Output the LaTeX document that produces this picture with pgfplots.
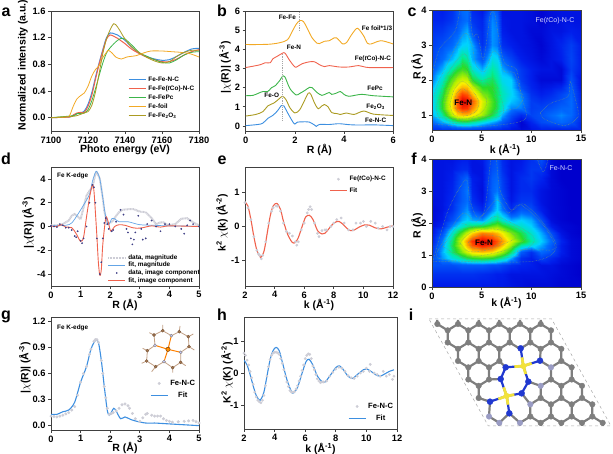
\documentclass[border=0pt]{standalone}
\usepackage{fontspec}
\setmainfont{Liberation Sans}
\usepackage{pgfplots}
\pgfplotsset{compat=1.18}

\definecolor{cblue}{HTML}{3D8FE0}
\definecolor{cred}{HTML}{F0624D}
\definecolor{cgreen}{HTML}{3CB54A}
\definecolor{corange}{HTML}{F2A925}
\definecolor{colive}{HTML}{AB9B22}
\definecolor{cspine}{HTML}{404040}
\definecolor{cdots}{HTML}{CDCDD6}
\definecolor{catom}{HTML}{7E7E7E}
\definecolor{cn}{HTML}{2038D0}
\definecolor{clav}{HTML}{9A9CC4}
\definecolor{cfe}{HTML}{F2E23C}
\definecolor{cbrown}{HTML}{A87850}
\definecolor{cctr}{HTML}{6F9A78}

\newcommand\tickf{\fontsize{9.3}{10}\selectfont\bfseries}
\newcommand\labf{\fontsize{10.5}{11}\selectfont\bfseries}
\newcommand\legf{\fontsize{6.4}{7}\selectfont\bfseries}
\newcommand\letf{\fontsize{16}{16}\selectfont\bfseries}

\pgfplotsset{
  colormap={exafs}{rgb255(0cm)=(0,0,150); rgb255(6cm)=(0,0,205); rgb255(12cm)=(0,30,235); rgb255(25cm)=(0,110,255);
    rgb255(33cm)=(0,210,255); rgb255(42cm)=(0,235,160); rgb255(50cm)=(40,220,40);
    rgb255(62cm)=(180,240,0); rgb255(70cm)=(250,240,0); rgb255(80cm)=(255,150,0);
    rgb255(92cm)=(255,50,0); rgb255(100cm)=(220,0,0)},
  panel/.style={
    scale only axis, anchor=south west,
    axis line style={cspine,line width=.9pt},
    tick style={cspine,line width=.7pt},
    tick align=outside, major tick length=3pt,
    xtick pos=bottom, ytick pos=left,
    /pgf/number format/assume math mode=true,
    tick label style={font=\tickf},
    label style={font=\labf},
    xticklabel style={yshift=1pt}, yticklabel style={xshift=1pt},
    legend cell align=left,
    legend style={draw=none,fill=none,font=\legf,inner sep=0pt,outer sep=0pt,row sep=-.6pt},
  },
  xlab/.style 2 args={xlabel style={at={(axis description cs:#1,#2)},anchor=center}},
  ylab/.style 2 args={ylabel style={at={(axis description cs:#1,#2)},anchor=center}},
  ctr/.style={densely dotted,color=cctr,line width=.45pt,smooth,forget plot},
  heat/.style={surf,shader=interp,point meta=explicit,point meta min=0,point meta max=1,colormap name=exafs},
}

\begin{document}
\begin{tikzpicture}[x=1pt,y=1pt]
\path[use as bounding box] (0,0) rectangle (613,454);

% a: XANES
\begin{axis}[panel, at={(51pt,323pt)}, width=148pt, height=120pt,
  xmin=7100, xmax=7180, ymin=-0.2, ymax=1.6,
  xtick={7100,7120,7140,7160,7180}, ytick={0,0.4,0.8,1.2,1.6},
  x tick label style={/pgf/number format/1000 sep={}},
  y tick label style={/pgf/number format/fixed,/pgf/number format/fixed zerofill,/pgf/number format/precision=1},
  xlabel={Photo energy (eV)}, ylabel={Normalized intensity (a.u.)},
  xlab={.5}{-.158}, ylab={-.19}{.55},
  legend style={at={(axis description cs:.52,.47)},anchor=north west,row sep=-1pt},
  legend image post style={line width=1.4pt},
]
\addplot[cblue,line width=1pt,smooth] coordinates {(7100,0)(7110,0.01)(7112,0.03)(7114,0.06)(7116,0.07)(7118,0.10)(7120,0.2)(7122,0.37)(7124,0.6)(7126,0.82)(7128,1.02)(7130,1.2)(7132,1.27)(7134,1.26)(7136,1.24)(7138,1.2)(7140,1.16)(7144,1.05)(7148,0.96)(7152,0.91)(7156,0.88)(7160,0.86)(7164,0.87)(7168,0.92)(7172,0.98)(7176,1.03)(7180,1.04)};
\addplot[cred,line width=1pt,smooth] coordinates {(7100,0)(7110,0.01)(7112,0.04)(7114,0.07)(7116,0.08)(7118,0.08)(7120,0.17)(7122,0.33)(7124,0.57)(7126,0.8)(7128,1.0)(7130,1.18)(7132,1.24)(7134,1.22)(7136,1.19)(7138,1.15)(7140,1.11)(7144,1.02)(7150,0.93)(7156,0.87)(7160,0.84)(7164,0.84)(7168,0.88)(7172,0.94)(7176,0.99)(7180,1.02)};
\addplot[cgreen,line width=.8pt,smooth] coordinates {(7100,0)(7112,0.03)(7114,0.06)(7118,0.07)(7120,0.12)(7122,0.25)(7124,0.43)(7126,0.63)(7128,0.82)(7130,0.97)(7132,1.05)(7134,1.11)(7136,1.16)(7138,1.19)(7140,1.18)(7144,1.08)(7148,0.97)(7152,0.92)(7156,0.87)(7160,0.83)(7164,0.82)(7168,0.87)(7172,0.94)(7176,0.98)(7180,0.99)};
\addplot[corange,line width=.8pt,smooth] coordinates {(7100,0)(7108,0.01)(7110,0.03)(7112,0.17)(7114,0.28)(7116,0.33)(7118,0.37)(7120,0.47)(7122,0.62)(7124,0.72)(7126,0.78)(7128,0.9)(7130,0.98)(7131,1.01)(7133,0.97)(7135,0.91)(7138,0.88)(7141,0.91)(7146,0.93)(7150,0.97)(7154,1.0)(7160,1.0)(7165,0.99)(7170,0.98)(7175,0.96)(7180,0.91)};
\addplot[colive,line width=.8pt,smooth] coordinates {(7100,0)(7112,0.02)(7116,0.05)(7118,0.07)(7120,0.09)(7122,0.18)(7124,0.38)(7126,0.66)(7128,0.96)(7130,1.18)(7132,1.32)(7134,1.41)(7136,1.36)(7138,1.27)(7140,1.18)(7144,1.05)(7148,0.97)(7152,0.9)(7156,0.85)(7160,0.82)(7164,0.84)(7168,0.92)(7172,0.98)(7176,1.01)(7180,1.01)};
\legend{Fe-Fe-N-C,Fe-Fe(\textit{t}Co)-N-C,Fe-FePc,Fe-foil,Fe-Fe\textsubscript{2}O\textsubscript{3}}
\end{axis}

% b: |chi(R)| stack
\begin{axis}[panel, at={(245.7pt,323pt)}, width=147.5pt, height=120pt,
  xmin=0, xmax=6, ymin=-0.26, ymax=6,
  xtick={0,2,4,6}, ytick={0,1,2,3,4,5,6},
  xlabel={R (Å)}, ylabel={|$\chi$(R)| (Å\textsuperscript{-3})},
  xlab={.5}{-.158}, ylab={-.14}{.53},
]
\addplot[corange,line width=.9pt,smooth] coordinates {(0,4.25)(0.5,4.25)(1,4.27)(1.4,4.35)(1.7,4.5)(1.9,4.95)(2.05,5.3)(2.2,5.5)(2.35,5.45)(2.5,5.1)(2.7,4.6)(2.9,4.32)(3.0,4.3)(3.2,4.42)(3.4,4.45)(3.6,4.6)(3.7,4.6)(3.85,4.4)(3.95,4.28)(4.1,4.35)(4.3,4.75)(4.5,5.08)(4.6,5.05)(4.8,4.7)(4.95,4.32)(5.1,4.28)(5.3,4.38)(5.5,4.45)(5.7,4.4)(6,4.28)};
\addplot[cred,line width=.9pt,smooth] coordinates {(0,3.05)(0.3,3.12)(0.6,3.2)(0.8,3.3)(1,3.3)(1.1,3.5)(1.3,3.65)(1.5,3.8)(1.6,3.8)(1.8,3.4)(2,3.08)(2.1,3.1)(2.3,3.25)(2.6,3.35)(2.8,3.35)(3,3.2)(3.2,3.1)(3.4,3.15)(3.8,3.08)(4.2,3.08)(4.6,3.15)(5,3.05)(6,3.05)};
\addplot[cgreen,line width=.9pt,smooth] coordinates {(0,1.58)(0.3,1.6)(0.5,1.7)(0.7,1.8)(0.9,1.8)(1.05,2.0)(1.2,2.1)(1.4,2.4)(1.5,2.6)(1.6,2.55)(1.8,1.95)(2.05,1.62)(2.2,1.7)(2.4,1.85)(2.6,2.02)(2.7,2.0)(2.9,1.75)(3.1,1.6)(3.3,1.7)(3.4,1.75)(3.5,1.65)(3.7,1.72)(3.85,1.8)(4,1.65)(4.2,1.55)(4.7,1.65)(5.2,1.58)(6,1.52)};
\addplot[colive,line width=.9pt,smooth] coordinates {(0,0.52)(0.4,0.6)(0.7,0.75)(0.9,1.05)(1.15,1.2)(1.3,1.35)(1.5,1.55)(1.65,1.35)(1.8,0.95)(2,0.68)(2.2,0.85)(2.4,1.35)(2.55,1.72)(2.65,1.65)(2.8,1.2)(2.95,0.9)(3.1,1.05)(3.2,1.12)(3.35,1.0)(3.5,0.7)(3.7,0.65)(3.85,0.6)(4.1,0.68)(4.4,0.6)(4.8,0.78)(5.2,0.62)(6,0.55)};
\addplot[cblue,line width=.9pt,smooth] coordinates {(0,0.02)(0.5,0.08)(0.7,0.15)(0.9,0.4)(1.1,0.55)(1.3,0.8)(1.45,1.07)(1.55,1.05)(1.7,0.7)(1.9,0.25)(2,0.1)(2.1,0.2)(2.4,0.22)(2.6,0.2)(2.8,0.05)(2.87,-0.02)(3,0.08)(3.4,0.08)(3.8,0.12)(4.2,0.07)(4.6,0.05)(5.2,0.06)(6,0.02)};
\addplot[gray!70,densely dotted,line width=1.2pt] coordinates {(2.2,5.95)(2.2,5.0)};
\addplot[gray!70,densely dotted,line width=1.2pt] coordinates {(1.5,3.75)(1.5,0.3)};
\end{axis}

% c: wavelet Fe(tCo)-N-C
\begin{axis}[panel, at={(432pt,324pt)}, width=149pt, height=120pt, axis on top,
  xmin=0, xmax=15, ymin=0.57, ymax=4,
  xtick={0,5,10,15}, ytick={1,2,3,4},
  xlabel={k (Å\textsuperscript{-1})}, ylabel={R (Å)},
  xlab={.49}{-.167}, ylab={-.10}{.525},
]
\addplot[heat, mesh/cols=20, mesh/rows=14] table[row sep=\\, header=false, x index=0, y index=1, meta index=2] {
0 .57 .14\\1 .57 .15\\2 .57 .15\\2.5 .57 .15\\3 .57 .15\\3.5 .57 .15\\4 .57 .15\\5 .57 .14\\5.5 .57 .13\\6 .57 .13\\6.5 .57 .13\\7 .57 .12\\8 .57 .10\\9 .57 .08\\10 .57 .10\\11 .57 .12\\12 .57 .12\\13 .57 .12\\14 .57 .12\\15 .57 .12\\
0 .8 .24\\1 .8 .30\\2 .8 .38\\2.5 .8 .43\\3 .8 .45\\3.5 .8 .45\\4 .8 .42\\5 .8 .36\\5.5 .8 .33\\6 .8 .30\\6.5 .8 .27\\7 .8 .22\\8 .8 .15\\9 .8 .07\\10 .8 .13\\11 .8 .19\\12 .8 .21\\13 .8 .24\\14 .8 .21\\15 .8 .13\\
0 1 .30\\1 1 .42\\2 1 .63\\2.5 1 .72\\3 1 .75\\3.5 1 .75\\4 1 .70\\5 1 .60\\5.5 1 .54\\6 1 .48\\6.5 1 .42\\7 1 .30\\8 1 .20\\9 1 .14\\10 1 .18\\11 1 .20\\12 1 .24\\13 1 .27\\14 1 .24\\15 1 .15\\
0 1.2 .32\\1 1.2 .50\\2 1.2 .72\\2.5 1.2 .85\\3 1.2 .93\\3.5 1.2 .92\\4 1.2 .82\\5 1.2 .65\\5.5 1.2 .58\\6 1.2 .52\\6.5 1.2 .47\\7 1.2 .38\\8 1.2 .27\\9 1.2 .26\\10 1.2 .17\\11 1.2 .18\\12 1.2 .20\\13 1.2 .23\\14 1.2 .24\\15 1.2 .14\\
0 1.4 .32\\1 1.4 .50\\2 1.4 .72\\2.5 1.4 .88\\3 1.4 1\\3.5 1.4 .98\\4 1.4 .88\\5 1.4 .67\\5.5 1.4 .60\\6 1.4 .53\\6.5 1.4 .47\\7 1.4 .40\\8 1.4 .32\\9 1.4 .28\\10 1.4 .17\\11 1.4 .15\\12 1.4 .17\\13 1.4 .20\\14 1.4 .24\\15 1.4 .13\\
0 1.6 .33\\1 1.6 .47\\2 1.6 .68\\2.5 1.6 .80\\3 1.6 .90\\3.5 1.6 .87\\4 1.6 .76\\5 1.6 .58\\5.5 1.6 .55\\6 1.6 .50\\6.5 1.6 .46\\7 1.6 .40\\8 1.6 .34\\9 1.6 .26\\10 1.6 .15\\11 1.6 .12\\12 1.6 .14\\13 1.6 .18\\14 1.6 .23\\15 1.6 .12\\
0 1.8 .30\\1 1.8 .43\\2 1.8 .62\\2.5 1.8 .70\\3 1.8 .76\\3.5 1.8 .75\\4 1.8 .65\\5 1.8 .50\\5.5 1.8 .50\\6 1.8 .50\\6.5 1.8 .45\\7 1.8 .38\\8 1.8 .33\\9 1.8 .20\\10 1.8 .13\\11 1.8 .10\\12 1.8 .11\\13 1.8 .13\\14 1.8 .22\\15 1.8 .10\\
0 2 .26\\1 2 .38\\2 2 .55\\2.5 2 .62\\3 2 .66\\3.5 2 .64\\4 2 .50\\5 2 .42\\5.5 2 .45\\6 2 .47\\6.5 2 .42\\7 2 .35\\8 2 .33\\9 2 .17\\10 2 .12\\11 2 .08\\12 2 .08\\13 2 .08\\14 2 .20\\15 2 .10\\
0 2.3 .22\\1 2.3 .30\\2 2.3 .42\\2.5 2.3 .48\\3 2.3 .52\\3.5 2.3 .50\\4 2.3 .38\\5 2.3 .30\\5.5 2.3 .36\\6 2.3 .42\\6.5 2.3 .38\\7 2.3 .30\\8 2.3 .23\\9 2.3 .16\\10 2.3 .12\\11 2.3 .10\\12 2.3 .10\\13 2.3 .08\\14 2.3 .17\\15 2.3 .12\\
0 2.6 .18\\1 2.6 .24\\2 2.6 .31\\2.5 2.6 .36\\3 2.6 .45\\3.5 2.6 .42\\4 2.6 .30\\5 2.6 .21\\5.5 2.6 .28\\6 2.6 .36\\6.5 2.6 .34\\7 2.6 .24\\8 2.6 .18\\9 2.6 .12\\10 2.6 .10\\11 2.6 .08\\12 2.6 .10\\13 2.6 .12\\14 2.6 .18\\15 2.6 .12\\
0 3 .17\\1 3 .20\\2 3 .24\\2.5 3 .28\\3 3 .33\\3.5 3 .34\\4 3 .30\\5 3 .15\\5.5 3 .20\\6 3 .28\\6.5 3 .26\\7 3 .15\\8 3 .12\\9 3 .10\\10 3 .09\\11 3 .07\\12 3 .10\\13 3 .13\\14 3 .17\\15 3 .12\\
0 3.4 .15\\1 3.4 .16\\2 3.4 .20\\2.5 3.4 .22\\3 3.4 .27\\3.5 3.4 .30\\4 3.4 .20\\5 3.4 .14\\5.5 3.4 .20\\6 3.4 .28\\6.5 3.4 .26\\7 3.4 .12\\8 3.4 .10\\9 3.4 .10\\10 3.4 .08\\11 3.4 .08\\12 3.4 .10\\13 3.4 .10\\14 3.4 .12\\15 3.4 .11\\
0 3.7 .13\\1 3.7 .13\\2 3.7 .16\\2.5 3.7 .20\\3 3.7 .23\\3.5 3.7 .25\\4 3.7 .16\\5 3.7 .13\\5.5 3.7 .20\\6 3.7 .27\\6.5 3.7 .24\\7 3.7 .11\\8 3.7 .10\\9 3.7 .10\\10 3.7 .09\\11 3.7 .07\\12 3.7 .09\\13 3.7 .10\\14 3.7 .10\\15 3.7 .10\\
0 4 .13\\1 4 .12\\2 4 .15\\2.5 4 .20\\3 4 .24\\3.5 4 .25\\4 4 .14\\5 4 .11\\5.5 4 .16\\6 4 .24\\6.5 4 .20\\7 4 .10\\8 4 .10\\9 4 .10\\10 4 .09\\11 4 .07\\12 4 .09\\13 4 .10\\14 4 .10\\15 4 .10\\
};
\addplot[ctr] coordinates {(2.2,1.36)(2.5,1.62)(3.1,1.75)(3.8,1.6)(4.1,1.36)(3.8,1.15)(3.1,1.07)(2.5,1.12)(2.2,1.36)};
\addplot[ctr] coordinates {(1.8,1.3)(2.2,1.7)(3.0,1.97)(3.8,1.8)(4.7,1.4)(4.4,1.1)(3.3,.97)(2.2,1.0)(1.8,1.3)};
\addplot[ctr] coordinates {(1.2,1.25)(1.8,1.75)(2.7,2.2)(3.3,2.25)(4.0,1.9)(5.3,1.55)(5.5,1.3)(4.8,1.03)(3.3,.88)(1.8,.92)(1.2,1.25)};
\addplot[ctr] coordinates {(.8,1.25)(1.5,1.85)(2.5,2.35)(3.3,2.45)(4.2,1.95)(5.5,1.9)(6.3,1.65)(6.5,1.2)(5.5,.95)(3.3,.82)(1.5,.85)(.8,1.25)};
\addplot[ctr] coordinates {(.4,1.2)(1.2,1.95)(2.2,2.45)(3.3,2.75)(4.0,2.3)(4.8,1.98)(6,2.05)(6.7,1.7)(7.2,1.05)(5.5,.88)(3,.77)(1,.8)(.4,1.2)};
\addplot[ctr] coordinates {(.1,1.44)(.6,1.91)(1.6,2.49)(2.6,3.06)(3.4,3.34)(4,3.0)(4.5,2.39)(5.3,2.25)(6.15,2.82)(6.8,2.68)(7.2,2.25)(8.3,2.2)(8.85,1.72)(9.2,1.49)(8.5,1.2)(7.3,1.13)(4,.89)(.1,.94)};
\addplot[ctr] coordinates {(.1,2.25)(.8,2.91)(2.3,3.39)(2.8,4)};
\addplot[ctr] coordinates {(3.8,4)(4.1,3.25)(4.6,3.3)(5.15,2.58)(5.65,3.44)(5.9,3.9)(6.3,3.9)(6.65,3.34)(7.3,2.49)(8.5,2.3)(9,1.53)(9.5,.96)(8.3,.77)(4,.66)(0,.75)};
\addplot[ctr] coordinates {(10.9,1.06)(12,1.34)(13.7,1.53)(13.9,1.96)(14.4,1.49)(14.7,.96)(13.4,.7)(11.4,.87)(10.9,1.06)};
\end{axis}

% d: fit in R space
\begin{axis}[panel, at={(51pt,168pt)}, width=148pt, height=119pt,
  xmin=0, xmax=5, ymin=-5, ymax=5,
  xtick={0,1,2,3,4,5}, ytick={-4,-2,0,2,4},
  xlabel={R (Å)}, ylabel={|$\chi$(R)| (Å\textsuperscript{-3})},
  xlab={.5}{-.16}, ylab={-.155}{.53},
  legend style={at={(axis description cs:.38,.28)},anchor=north west,row sep=-2.5pt},
]
\addplot[cdots,line width=2pt,dash pattern=on 1pt off .5pt] coordinates {(0,.1)(.2,.1)(.4,.2)(.6,.5)(.7,.9)(.8,1.05)(.9,.85)(1.0,.6)(1.1,1.6)(1.2,2.6)(1.3,3.0)(1.4,3.3)(1.5,4.4)(1.55,4.6)(1.65,4.0)(1.75,2.4)(1.8,1.3)(1.9,.3)(2.0,.3)(2.1,.5)(2.2,.9)(2.3,1.2)(2.4,1.4)(2.6,1.45)(2.8,1.45)(3.0,1.25)(3.2,1.2)(3.4,.7)(3.55,.2)(3.7,.35)(3.8,.35)(3.95,.1)(4.2,.2)(4.4,.65)(4.6,.7)(4.8,.35)(5,.1)};
\addplot[cblue!80,line width=.7pt,smooth] coordinates {(0,.05)(.5,.1)(.7,.3)(.9,1.0)(1.1,1.8)(1.3,2.7)(1.4,3.8)(1.5,4.55)(1.55,4.6)(1.65,4.0)(1.75,2.4)(1.85,.8)(1.95,.15)(2.05,.65)(2.15,.65)(2.3,.4)(2.6,.4)(3,.15)(3.5,.1)(4,.05)(5,.02)};
\addplot[only marks,mark=*,mark size=.65pt,color=black!45!blue!50!gray] coordinates {(0,.05)(.1,0)(.2,-.05)(.3,.2)(.4,.1)(.5,-.1)(.6,-.1)(.7,-.3)(.8,-.8)(.85,-.9)(.9,-.4)(1.0,-1.2)(1.05,-1.4)(1.1,-1)(1.2,0)(1.3,2)(1.4,3.5)(1.45,3.3)(1.5,2)(1.55,-1)(1.65,-4)(1.7,-3)(1.75,-1)(1.8,.3)(1.85,.7)(1.9,.2)(1.95,-.2)(2.05,-.4)(2.1,-.3)(2.2,.4)(2.35,1.4)(2.45,1)(2.55,-.2)(2.6,-.5)(2.7,-1.0)(2.75,-1.5)(2.8,-1.1)(2.85,-.5)(2.95,.9)(3.05,-.2)(3.1,-1.1)(3.2,-1.0)(3.25,.2)(3.4,.5)(3.55,0)(3.7,-.4)(3.85,.2)(4,.2)(4.2,0)(4.4,-.2)(4.5,-.6)(4.6,.1)(4.7,.5)(4.8,.2)(5,0)};
\addplot[cred,line width=.9pt,smooth] coordinates {(0,.03)(.2,0)(.35,.15)(.5,-.05)(.7,-.1)(.85,-.6)(1.0,-1.25)(1.1,-.9)(1.2,.8)(1.3,2.4)(1.4,3.5)(1.45,3.0)(1.5,1.2)(1.55,-.8)(1.6,-3)(1.65,-4.1)(1.7,-3.6)(1.75,-1.5)(1.85,.7)(1.92,.5)(2.0,-.3)(2.05,-.35)(2.15,0)(2.3,.15)(2.5,.1)(2.75,-.1)(2.9,-.15)(3.1,-.1)(3.4,.05)(3.7,-.05)(4.0,.05)(5,0)};
\legend{{data, magnitude},{fit, magnitude},{data, image component},{fit, image component}}
\end{axis}

% e: fit in k space
\begin{axis}[panel, at={(245pt,168pt)}, width=148pt, height=119pt,
  xmin=2, xmax=12, ymin=-1.75, ymax=1.75,
  xtick={2,4,6,8,10,12}, ytick={-1,0,1},
  xlabel={k (Å\textsuperscript{-1})}, ylabel={k\textsuperscript{2} $\chi$(k) (Å\textsuperscript{-2})},
  xlab={.5}{-.16}, ylab={-.155}{.53},
  legend style={at={(axis description cs:.57,.94)},anchor=north west,row sep=1.5pt},
]
\addplot[only marks,mark=*,mark size=1.2pt,color=cdots] coordinates {(2,.7)(2.2,.55)(2.4,.2)(2.6,-.3)(2.8,-.7)(2.9,-.8)(3,-.85)(3.1,-.95)(3.2,-.85)(3.4,-.45)(3.6,.1)(3.8,.45)(3.9,.55)(4.1,.6)(4.2,.6)(4.4,.45)(4.6,.1)(4.8,-.15)(5,-.2)(5.2,-.28)(5.4,-.45)(5.5,-.55)(5.6,-.45)(5.8,-.1)(6.0,.1)(6.2,.4)(6.3,.5)(6.4,.58)(6.5,.5)(6.7,.1)(6.9,-.2)(7.0,-.3)(7.2,-.12)(7.4,-.1)(7.5,-.1)(7.8,0)(8.0,.1)(8.2,.2)(8.5,.25)(8.7,.1)(9,-.1)(9.3,-.1)(9.5,.1)(9.8,.1)(10,.15)(10.2,0)(10.5,.15)(10.8,.1)(11,-.05)(11.3,0)(11.6,-.1)(11.8,0)(12,0)};
\addplot[cred,line width=1.1pt,smooth] coordinates {(2,.72)(2.2,.6)(2.4,.2)(2.6,-.3)(2.8,-.7)(3.0,-.88)(3.1,-.9)(3.3,-.7)(3.5,-.2)(3.7,.3)(3.9,.6)(4.15,.68)(4.4,.5)(4.6,.15)(4.9,-.25)(5.2,-.47)(5.4,-.47)(5.6,-.33)(5.9,.05)(6.1,.28)(6.35,.33)(6.6,.2)(6.9,-.12)(7.2,-.22)(7.4,-.2)(7.7,-.05)(8.0,.1)(8.35,.15)(8.7,.03)(9.0,-.1)(9.3,-.12)(9.7,-.02)(10.1,.05)(10.4,.04)(10.8,-.04)(11.2,-.07)(11.6,-.02)(12,.02)};
\legend{Fe(\textit{t}Co)-N-C,Fit}
\end{axis}

% f: wavelet Fe-N-C
\begin{axis}[panel, at={(432pt,167pt)}, width=149pt, height=128pt, axis on top,
  xmin=0, xmax=15, ymin=0, ymax=4,
  xtick={0,5,10,15}, ytick={0,1,2,3,4},
  xlabel={k (Å\textsuperscript{-1})}, ylabel={R (Å)},
  xlab={.5}{-.125}, ylab={-.10}{.48},
]
\addplot[heat, mesh/cols=18, mesh/rows=16] table[row sep=\\, header=false, x index=0, y index=1, meta index=2] {
0 0 .11\\1 0 .11\\2 0 .11\\3 0 .11\\3.5 0 .11\\4 0 .11\\5 0 .11\\6 0 .11\\6.5 0 .11\\7 0 .11\\8 0 .10\\9 0 .09\\10 0 .08\\11 0 .08\\12 0 .08\\13 0 .07\\14 0 .07\\15 0 .07\\
0 .4 .15\\1 .4 .15\\2 .4 .15\\3 .4 .15\\3.5 .4 .15\\4 .4 .15\\5 .4 .14\\6 .4 .13\\6.5 .4 .12\\7 .4 .12\\8 .4 .10\\9 .4 .10\\10 .4 .10\\11 .4 .10\\12 .4 .09\\13 .4 .08\\14 .4 .07\\15 .4 .06\\
0 .7 .20\\1 .7 .20\\2 .7 .20\\3 .7 .22\\3.5 .7 .22\\4 .7 .22\\5 .7 .22\\6 .7 .20\\6.5 .7 .20\\7 .7 .18\\8 .7 .15\\9 .7 .13\\10 .7 .12\\11 .7 .10\\12 .7 .10\\13 .7 .08\\14 .7 .07\\15 .7 .06\\
0 .9 .20\\1 .9 .28\\2 .9 .36\\3 .9 .43\\3.5 .9 .47\\4 .9 .50\\5 .9 .52\\6 .9 .50\\6.5 .9 .46\\7 .9 .42\\8 .9 .30\\9 .9 .15\\10 .9 .12\\11 .9 .18\\12 .9 .14\\13 .9 .10\\14 .9 .08\\15 .9 .07\\
0 1.1 .16\\1 1.1 .30\\2 1.1 .45\\3 1.1 .58\\3.5 1.1 .65\\4 1.1 .72\\5 1.1 .75\\6 1.1 .72\\6.5 1.1 .66\\7 1.1 .60\\8 1.1 .45\\9 1.1 .22\\10 1.1 .15\\11 1.1 .24\\12 1.1 .20\\13 1.1 .12\\14 1.1 .08\\15 1.1 .07\\
0 1.3 .14\\1 1.3 .27\\2 1.3 .47\\3 1.3 .66\\3.5 1.3 .78\\4 1.3 .88\\5 1.3 .96\\6 1.3 .92\\6.5 1.3 .85\\7 1.3 .76\\8 1.3 .60\\9 1.3 .42\\10 1.3 .36\\11 1.3 .30\\12 1.3 .22\\13 1.3 .12\\14 1.3 .08\\15 1.3 .07\\
0 1.45 .12\\1 1.45 .26\\2 1.45 .45\\3 1.45 .68\\3.5 1.45 .80\\4 1.45 .92\\5 1.45 1\\6 1.45 .95\\6.5 1.45 .88\\7 1.45 .80\\8 1.45 .66\\9 1.45 .53\\10 1.45 .42\\11 1.45 .33\\12 1.45 .24\\13 1.45 .13\\14 1.45 .08\\15 1.45 .07\\
0 1.7 .10\\1 1.7 .20\\2 1.7 .38\\3 1.7 .55\\3.5 1.7 .64\\4 1.7 .73\\5 1.7 .83\\6 1.7 .80\\6.5 1.7 .76\\7 1.7 .70\\8 1.7 .58\\9 1.7 .48\\10 1.7 .38\\11 1.7 .30\\12 1.7 .20\\13 1.7 .10\\14 1.7 .07\\15 1.7 .06\\
0 1.9 .09\\1 1.9 .13\\2 1.9 .27\\3 1.9 .38\\3.5 1.9 .43\\4 1.9 .46\\5 1.9 .48\\6 1.9 .55\\6.5 1.9 .57\\7 1.9 .52\\8 1.9 .45\\9 1.9 .38\\10 1.9 .33\\11 1.9 .24\\12 1.9 .12\\13 1.9 .08\\14 1.9 .07\\15 1.9 .06\\
0 2.1 .08\\1 2.1 .11\\2 2.1 .20\\3 2.1 .30\\3.5 2.1 .33\\4 2.1 .30\\5 2.1 .28\\6 2.1 .40\\6.5 2.1 .45\\7 2.1 .38\\8 2.1 .30\\9 2.1 .33\\10 2.1 .30\\11 2.1 .20\\12 2.1 .09\\13 2.1 .07\\14 2.1 .06\\15 2.1 .06\\
0 2.4 .08\\1 2.4 .10\\2 2.4 .15\\3 2.4 .25\\3.5 2.4 .28\\4 2.4 .20\\5 2.4 .14\\6 2.4 .27\\6.5 2.4 .33\\7 2.4 .26\\8 2.4 .15\\9 2.4 .22\\10 2.4 .20\\11 2.4 .12\\12 2.4 .08\\13 2.4 .07\\14 2.4 .06\\15 2.4 .06\\
0 2.7 .09\\1 2.7 .10\\2 2.7 .14\\3 2.7 .22\\3.5 2.7 .25\\4 2.7 .15\\5 2.7 .10\\6 2.7 .23\\6.5 2.7 .32\\7 2.7 .22\\8 2.7 .11\\9 2.7 .16\\10 2.7 .16\\11 2.7 .10\\12 2.7 .08\\13 2.7 .07\\14 2.7 .06\\15 2.7 .06\\
0 3 .10\\1 3 .10\\2 3 .13\\3 3 .22\\3.5 3 .26\\4 3 .13\\5 3 .09\\6 3 .23\\6.5 3 .26\\7 3 .18\\8 3 .10\\9 3 .14\\10 3 .14\\11 3 .10\\12 3 .08\\13 3 .07\\14 3 .06\\15 3 .06\\
0 3.4 .10\\1 3.4 .10\\2 3.4 .12\\3 3.4 .20\\3.5 3.4 .23\\4 3.4 .12\\5 3.4 .10\\6 3.4 .22\\6.5 3.4 .24\\7 3.4 .17\\8 3.4 .10\\9 3.4 .14\\10 3.4 .16\\11 3.4 .13\\12 3.4 .08\\13 3.4 .06\\14 3.4 .06\\15 3.4 .06\\
0 3.7 .10\\1 3.7 .10\\2 3.7 .11\\3 3.7 .14\\3.5 3.7 .14\\4 3.7 .10\\5 3.7 .10\\6 3.7 .20\\6.5 3.7 .22\\7 3.7 .15\\8 3.7 .10\\9 3.7 .12\\10 3.7 .16\\11 3.7 .16\\12 3.7 .08\\13 3.7 .06\\14 3.7 .06\\15 3.7 .06\\
0 4 .10\\1 4 .10\\2 4 .10\\3 4 .12\\3.5 4 .12\\4 4 .10\\5 4 .11\\6 4 .19\\6.5 4 .21\\7 4 .14\\8 4 .10\\9 4 .11\\10 4 .15\\11 4 .20\\12 4 .08\\13 4 .06\\14 4 .06\\15 4 .06\\
};
\addplot[ctr] coordinates {(3.66,1.39)(4.3,1.56)(5.3,1.63)(6.85,1.56)(7.0,1.42)(6.0,1.25)(4.8,1.19)(4.0,1.24)(3.66,1.39)};
\addplot[ctr] coordinates {(2.82,1.37)(3.8,1.68)(5.7,1.82)(7.7,1.73)(8.4,1.53)(7,1.32)(5.3,1.14)(3.66,1.11)(2.82,1.37)};
\addplot[ctr] coordinates {(1.8,1.37)(2.8,1.79)(5.3,1.94)(6.7,2.05)(8.7,1.81)(9.5,1.58)(8.4,1.27)(6,1.04)(3,.94)(1.8,1.37)};
\addplot[ctr] coordinates {(1.14,1.27)(2.8,1.97)(4.5,1.84)(6.3,2.2)(8.4,1.94)(10.2,1.58)(9.9,1.27)(7.5,1.01)(3.66,.85)(1.14,1.27)};
\addplot[ctr] coordinates {(.64,1.16)(3,2.29)(4.5,2.05)(6.5,2.72)(7.7,2.31)(8.9,2.57)(11.2,1.94)(12.4,1.22)(10.7,1.16)(8.7,1.16)(8.4,.96)(4,.8)(.64,.9)(.64,1.16)};
\addplot[ctr] coordinates {(.13,.85)(1.64,2.41)(3.4,3.35)(3.8,2.72)(4.5,2.2)(5.3,2.41)(5.9,3.97)};
\addplot[ctr] coordinates {(6.5,3.97)(6.85,3.03)(8,2.41)(9.2,2.6)(11.2,2.0)(12.5,1.22)(10,.8)(.13,.8)};
\addplot[ctr] coordinates {(10.6,4)(11.2,3.6)(11.7,4)};
\end{axis}

% g: fit Fe-N-C, R space
\begin{axis}[panel, at={(51pt,24pt)}, width=148pt, height=113pt,
  xmin=0, xmax=5, ymin=-0.05, ymax=1.25,
  xtick={0,1,2,3,4,5}, ytick={0,0.3,0.6,0.9,1.2},
  y tick label style={/pgf/number format/fixed,/pgf/number format/fixed zerofill,/pgf/number format/precision=1},
  xlabel={R (Å)}, ylabel={|$\chi$(R)| (Å\textsuperscript{-3})},
  xlab={.5}{-.16}, ylab={-.176}{.55},
  legend cell align=center,
  legend style={at={(axis description cs:.67,.46)},anchor=north west,font=\fontsize{7.6}{8}\selectfont\bfseries,row sep=1pt},
]
\addplot[only marks,mark=*,mark size=1.3pt,color=cdots] coordinates {(0,.11)(.1,.105)(.2,.1)(.3,.11)(.4,.12)(.5,.135)(.6,.15)(.7,.18)(.8,.22)(.9,.35)(1,.5)(1.1,.6)(1.2,.68)(1.3,.82)(1.35,.88)(1.45,.97)(1.5,.99)(1.55,.99)(1.6,.96)(1.7,.75)(1.75,.6)(1.8,.45)(1.85,.32)(1.9,.2)(1.97,.13)(2.05,.14)(2.1,.15)(2.2,.17)(2.3,.2)(2.4,.24)(2.5,.25)(2.6,.23)(2.65,.2)(2.75,.14)(2.85,.08)(3.0,.05)(3.1,.09)(3.2,.13)(3.25,.14)(3.4,.12)(3.5,.11)(3.6,.11)(3.7,.11)(3.8,.08)(3.9,.06)(4.0,.05)(4.1,.04)(4.3,.045)(4.5,.05)(4.65,.055)(4.8,.06)(4.9,.045)(5,.03)};
\addplot[cblue,line width=1.1pt,smooth] coordinates {(0,.13)(.2,.13)(.4,.16)(.6,.18)(.8,.27)(1,.5)(1.2,.68)(1.35,.88)(1.5,.98)(1.6,.96)(1.7,.75)(1.8,.45)(1.9,.18)(1.97,.12)(2.05,.16)(2.12,.2)(2.2,.17)(2.35,.08)(2.5,.1)(2.7,.07)(2.9,.05)(3.2,.03)(3.5,.03)(4,.02)(4.5,.01)(5,0)};
\legend{Fe-N-C,Fit}
\end{axis}

% g inset: FeN4 model, image units
\begin{axis}[at={(140pt,84pt)}, anchor=south west, scale only axis, width=60pt, height=50pt,
  hide axis, clip=false, xmin=0, xmax=180, ymin=0, ymax=150, y dir=reverse, unbounded coords=jump]
\addplot[cbrown!70,line width=.8pt] coordinates {(42,45)(68,32)(94,47)(118,35)(145,50)(147,80)(122,97)(122,127)(98,143)(72,125)(47,140)(20,123)(22,92)(45,76)(42,45)
  (0,nan)(68,32)(68,15)(0,nan)(118,35)(120,18)(0,nan)(145,50)(160,42)(0,nan)(147,80)(163,90)(0,nan)(122,127)(137,137)(0,nan)(98,143)(98,158)(0,nan)(47,140)(35,155)(0,nan)(20,123)(5,130)(0,nan)(22,92)(8,85)(0,nan)(42,45)(28,38)};
\addplot[orange,line width=1pt] coordinates {(94,47)(84,88)(122,97)(0,nan)(72,125)(84,88)(45,76)};
\addplot[only marks,mark=*,mark size=1.5pt,color=cbrown,mark options={draw=cbrown!70!black,fill=cbrown}] coordinates {(68,32)(118,35)(145,50)(147,80)(122,127)(98,143)(47,140)(20,123)(22,92)(42,45)};
\addplot[only marks,mark=*,mark size=1.5pt,mark options={draw=gray,fill=blue!20}] coordinates {(94,47)(122,97)(72,125)(45,76)};
\addplot[only marks,mark=*,mark size=2.2pt,mark options={draw=black!60!orange,fill=orange!90!yellow}] coordinates {(84,88)};
\end{axis}

% h: fit Fe-N-C, k space
\begin{axis}[panel, at={(244pt,25pt)}, width=153pt, height=112pt,
  xmin=2, xmax=12, ymin=-1.75, ymax=1.75,
  xtick={2,4,6,8,10,12}, ytick={-1,0,1},
  xlabel={k (Å\textsuperscript{-1})}, ylabel={K\textsuperscript{2} $\chi$(K) (Å\textsuperscript{-2})},
  xlab={.5}{-.175}, ylab={-.11}{.5},
  legend cell align=center,
  legend style={at={(axis description cs:.68,.25)},anchor=north west,font=\fontsize{7.6}{8}\selectfont\bfseries,row sep=1pt},
]
\addplot[only marks,mark=*,mark size=1.2pt,color=cdots] coordinates {(2,.62)(2.1,.55)(2.2,.4)(2.3,.25)(2.4,.05)(2.5,-.15)(2.6,-.35)(2.7,-.6)(2.8,-.75)(2.9,-.85)(3,-.9)(3.1,-.93)(3.2,-.85)(3.3,-.7)(3.4,-.4)(3.5,-.1)(3.6,.2)(3.7,.42)(3.8,.55)(3.9,.62)(4,.65)(4.1,.65)(4.2,.63)(4.3,.58)(4.4,.45)(4.5,.3)(4.6,.1)(4.7,-.1)(4.8,-.28)(4.9,-.42)(5,-.55)(5.1,-.6)(5.2,-.6)(5.3,-.58)(5.4,-.5)(5.5,-.4)(5.6,-.25)(5.7,-.1)(5.8,.08)(5.9,.25)(6,.45)(6.1,.55)(6.2,.6)(6.3,.58)(6.4,.45)(6.5,.22)(6.6,.1)(6.7,-.05)(6.8,-.18)(6.9,-.25)(7,-.3)(7.1,-.28)(7.2,-.28)(7.4,-.25)(7.6,-.1)(7.8,.02)(8,.12)(8.2,.18)(8.4,.15)(8.6,.05)(8.8,-.08)(9,-.15)(9.2,-.17)(9.4,-.1)(9.6,0)(9.8,.05)(10,.15)(10.2,.05)(10.25,.27)(10.5,0)(10.7,-.05)(10.9,-.1)(11.1,.05)(11.3,-.1)(11.5,-.05)(11.7,-.2)(11.8,-.1)};
\addplot[cblue,line width=1.1pt,smooth] coordinates {(2,.4)(2.2,.25)(2.4,-.05)(2.6,-.4)(2.8,-.7)(3.05,-.85)(3.3,-.6)(3.5,-.1)(3.7,.4)(3.9,.7)(4.1,.8)(4.3,.7)(4.5,.35)(4.8,-.2)(5.1,-.58)(5.25,-.62)(5.5,-.45)(5.8,0)(6.05,.35)(6.25,.43)(6.5,.25)(6.8,-.1)(7.1,-.27)(7.3,-.28)(7.6,-.1)(8,.17)(8.25,.22)(8.5,.1)(8.8,-.1)(9.1,-.17)(9.4,-.05)(9.8,.1)(10,.13)(10.3,.05)(10.7,-.08)(10.9,-.1)(11.2,-.03)(11.5,.05)(11.8,.1)};
\legend{Fe-N-C,Fit}
\end{axis}

% i: slab model, image units
\begin{axis}[at={(405pt,0pt)}, anchor=south west, scale only axis, width=208pt, height=154pt,
  hide axis, clip=false, xmin=0, xmax=624, ymin=0, ymax=462, y dir=reverse, unbounded coords=jump]
\addplot[gray!70,dashed,line width=.5pt] coordinates {(72,57)(440,57)(618,378)(250,378)(72,57)};
\addplot[catom,line width=2.2pt] coordinates {
(97,72)(128,91)(159,72)(190,91)(221,72)(252,91)(283,72)(314,91)(345,72)(376,91)(407,72)(438,91)(0,nan)
(128,127.5)(159,146.5)(190,127.5)(221,146.5)(252,127.5)(283,146.5)(314,127.5)(345,146.5)(376,127.5)(407,146.5)(438,127.5)(469,146.5)(0,nan)
(159,183)(190,202)(221,183)(252,202)(283,183)(302,202)(0,nan)
(405,182)(438,202)(469,183)(500,202)(0,nan)
(190,238.5)(221,257.5)(252,238.5)(287,237)(0,nan)
(370,245)(407,257.5)(438,238.5)(469,257.5)(500,238.5)(531,257.5)(0,nan)
(221,294)(255,305)(0,nan)
(350,280)(376,313)(407,294)(438,313)(469,294)(500,313)(531,294)(562,313)(0,nan)
(252,349.5)(283,368.5)(313,340)(345,368.5)(376,349.5)(407,368.5)(438,349.5)(469,368.5)(500,349.5)(531,368.5)(562,349.5)(593,368.5)(0,nan)
(128,91)(128,127.5)(0,nan)(190,91)(190,127.5)(0,nan)(252,91)(252,127.5)(0,nan)(314,91)(314,127.5)(0,nan)(376,91)(376,127.5)(0,nan)(438,91)(438,127.5)(0,nan)
(159,146.5)(159,183)(0,nan)(221,146.5)(221,183)(0,nan)(283,146.5)(283,183)(0,nan)(407,146.5)(405,182)(0,nan)(469,146.5)(469,183)(0,nan)
(190,202)(190,238.5)(0,nan)(252,202)(252,238.5)(0,nan)(438,202)(438,238.5)(0,nan)(500,202)(500,238.5)(0,nan)
(221,257.5)(221,294)(0,nan)(407,257.5)(407,294)(0,nan)(469,257.5)(469,294)(0,nan)(531,257.5)(531,294)(0,nan)
(255,305)(252,349.5)(0,nan)(376,313)(376,349.5)(0,nan)(438,313)(438,349.5)(0,nan)(500,313)(500,349.5)(0,nan)(562,313)(562,349.5)(0,nan)
(97,72)(97,60)(0,nan)(159,72)(159,60)(0,nan)(221,72)(221,60)(0,nan)(283,72)(283,60)(0,nan)(345,72)(345,60)(0,nan)(407,72)(407,60)(0,nan)
(283,368.5)(283,378)(0,nan)(345,368.5)(345,378)(0,nan)(407,368.5)(407,378)(0,nan)(469,368.5)(469,378)(0,nan)(531,368.5)(531,378)(0,nan)(593,368.5)(593,378)};
\addplot[cn,line width=2.2pt] coordinates {(347,145)(355,198)(405,182)(0,nan)(302,202)(355,198)(370,245)(350,280)(305,288)(287,237)(302,202)(0,nan)(255,305)(305,288)(313,340)};
\addplot[cfe,line width=2.8pt] coordinates {(351,172)(355,198)(380,190)(0,nan)(328,200)(355,198)(362,222)(0,nan)(296,262)(305,288)(328,284)(0,nan)(280,297)(305,288)(309,314)};
\addplot[only marks,mark=*,mark size=2.8pt,color=catom] coordinates {
(97,72)(128,91)(159,72)(190,91)(221,72)(252,91)(283,72)(314,91)(345,72)(376,91)(407,72)(438,91)
(128,127.5)(159,146.5)(190,127.5)(221,146.5)(252,127.5)(283,146.5)(314,127.5)(376,127.5)(407,146.5)(438,127.5)(469,146.5)
(159,183)(190,202)(221,183)(252,202)(283,183)(469,183)(500,202)
(190,238.5)(221,257.5)(252,238.5)(438,238.5)(469,257.5)(500,238.5)(531,257.5)
(221,294)(407,294)(438,313)(469,294)(500,313)(531,294)(562,313)
(376,349.5)(407,368.5)(438,349.5)(469,368.5)(500,349.5)(531,368.5)(562,349.5)(593,368.5)};
\addplot[only marks,mark=*,mark size=2.8pt,color=clav] coordinates {(438,202)(407,257.5)(376,313)(252,349.5)(283,368.5)(345,368.5)};
\addplot[only marks,mark=*,mark size=3pt,color=cn] coordinates {(347,145)(405,182)(302,202)(287,237)(370,245)(350,280)(255,305)(313,340)};
\addplot[only marks,mark=*,mark size=2.8pt,color=cfe] coordinates {(355,198)(305,288)};
\end{axis}

% panel letters and annotations, placed by pixel
\foreach \t/\x/\y in {a/6/12,b/222/11,c/412/12,d/6/159,e/222/160,f/414/159,g/6/317,h/222/315,i/411/315}
  \node[font=\letf,inner sep=0pt] at (\x,{454-\y}) {\t};
\begin{scope}[every node/.style={font=\legf,inner sep=0pt}]
\node at (287.3,{454-17.3}) {Fe-Fe};
\node at (294,{454-47.7}) {Fe-N};
\node at (271.7,{454-95.7}) {Fe-O};
\node at (377,{454-28}) {Fe foil*1/3};
\node at (373,{454-59}) {Fe(\textit{t}Co)-N-C};
\node at (375,{454-88}) {FePc};
\node at (375.7,{454-106.7}) {Fe\textsubscript{2}O\textsubscript{3}};
\node at (375.7,{454-120.7}) {Fe-N-C};
\node[anchor=west] at (57,{454-176}) {Fe K-edge};
\node[anchor=west] at (57,{454-328}) {Fe K-edge};
\node[text=blue!15!white,font=\fontsize{7}{8}\selectfont] at (555,{454-20.7}) {Fe(\textit{t}Co)-N-C};
\node[text=blue!15!white,font=\fontsize{7}{8}\selectfont] at (561,{454-168.3}) {Fe-N-C};
\node[font=\fontsize{8}{8}\selectfont\bfseries] at (463.3,{454-102.7}) {Fe-N};
\node[font=\fontsize{8}{8}\selectfont\bfseries] at (484,{454-242.3}) {Fe-N};
\end{scope}
\end{tikzpicture}
\end{document}
